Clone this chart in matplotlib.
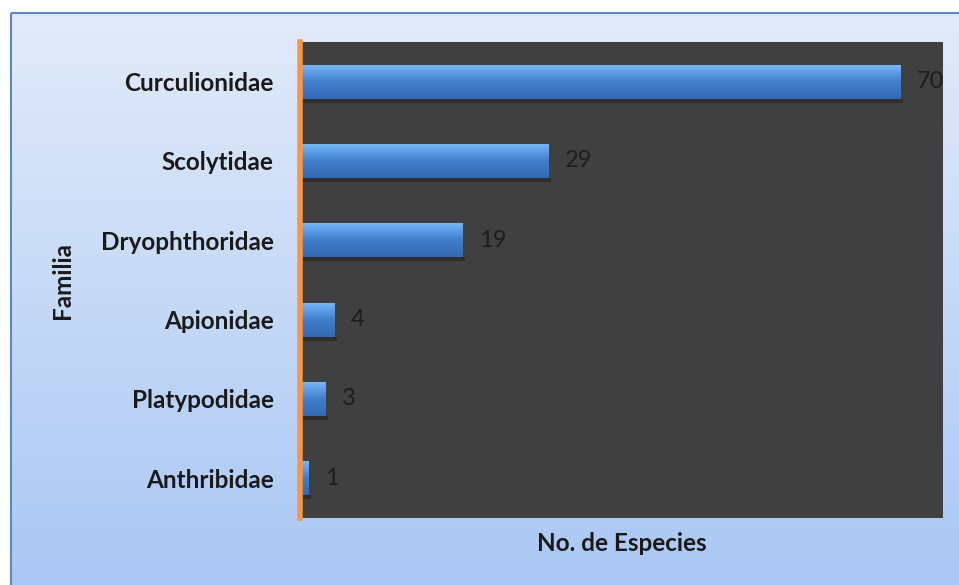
import numpy as np
import matplotlib.pyplot as plt
from matplotlib.colors import LinearSegmentedColormap
from matplotlib.patches import Rectangle

familias = ["Curculionidae", "Scolytidae", "Dryophthoridae",
            "Apionidae", "Platypodidae", "Anthribidae"]
especies = [70, 29, 19, 4, 3, 1]

plt.rcParams["font.family"] = ["Lato", "DejaVu Sans"]

W, H = 959, 585
fig = plt.figure(figsize=(W / 100, H / 100), dpi=100)

# panel background: light blue gradient with a thin blue frame
bg = fig.add_axes([0, 0, 1, 1], zorder=0)
bg.set_xlim(0, W)
bg.set_ylim(H, 0)
bg.axis("off")
panel_cmap = LinearSegmentedColormap.from_list("panel", ["#e2ebf9", "#a9c7f4"])
grad = np.linspace(0, 1, 256).reshape(-1, 1)
bg.imshow(grad, cmap=panel_cmap, extent=(11, W + 5, H + 5, 13), aspect="auto")
bg.add_patch(Rectangle((10.5, 12.5), W, H, fill=False, edgecolor="#5b87c5", lw=1.5))

ax = fig.add_axes([300 / W, 1 - 518 / H, 643 / W, 476 / H], zorder=1)
ax.set_facecolor("#404040")

y = np.arange(len(familias))
bars = ax.barh(y, especies, height=0.43, color="#3f7cc8", zorder=2)

bar_cmap = LinearSegmentedColormap.from_list(
    "bar", ["#7cbaf6", "#5c9de6", "#417fcc", "#3b74c0", "#3468b0"])
for rect, v in zip(bars, especies):
    x0, y0 = rect.get_x(), rect.get_y()
    w, h = rect.get_width(), rect.get_height()
    # soft shadow under each bar
    ax.add_patch(Rectangle((x0, y0 + h), w + 0.3, 0.05, color="#2e2e2e", zorder=1.5, lw=0))
    im = ax.imshow(grad, cmap=bar_cmap, extent=(x0, x0 + w, y0 + h, y0),
                   aspect="auto", zorder=2.5)
    im.set_clip_path(rect)
    ax.text(v + 1.9, rect.get_y() + h / 2, str(v), va="center", ha="left",
            fontsize=17, color="#1e1e1e", zorder=3)

ax.set_xlim(0, 75)
ax.set_ylim(len(familias) - 0.5, -0.5)
ax.set_yticks(y)
ax.set_yticklabels(familias, fontsize=17.5, fontweight="bold", color="#1a1a1a")
ax.set_xticks([])
ax.tick_params(axis="y", length=0, pad=19)

for side in ["top", "right", "bottom"]:
    ax.spines[side].set_visible(False)
ax.spines["left"].set_color("#f79646")
ax.spines["left"].set_linewidth(4)

ax.set_xlabel("No. de Especies", fontsize=17.5, fontweight="bold", color="#1a1a1a", labelpad=10)
fig.text(62 / W, 1 - 280 / H, "Familia", rotation=90, ha="center", va="center",
         fontsize=17.5, fontweight="bold", color="#1a1a1a")

fig.savefig("out.png", dpi=100)
